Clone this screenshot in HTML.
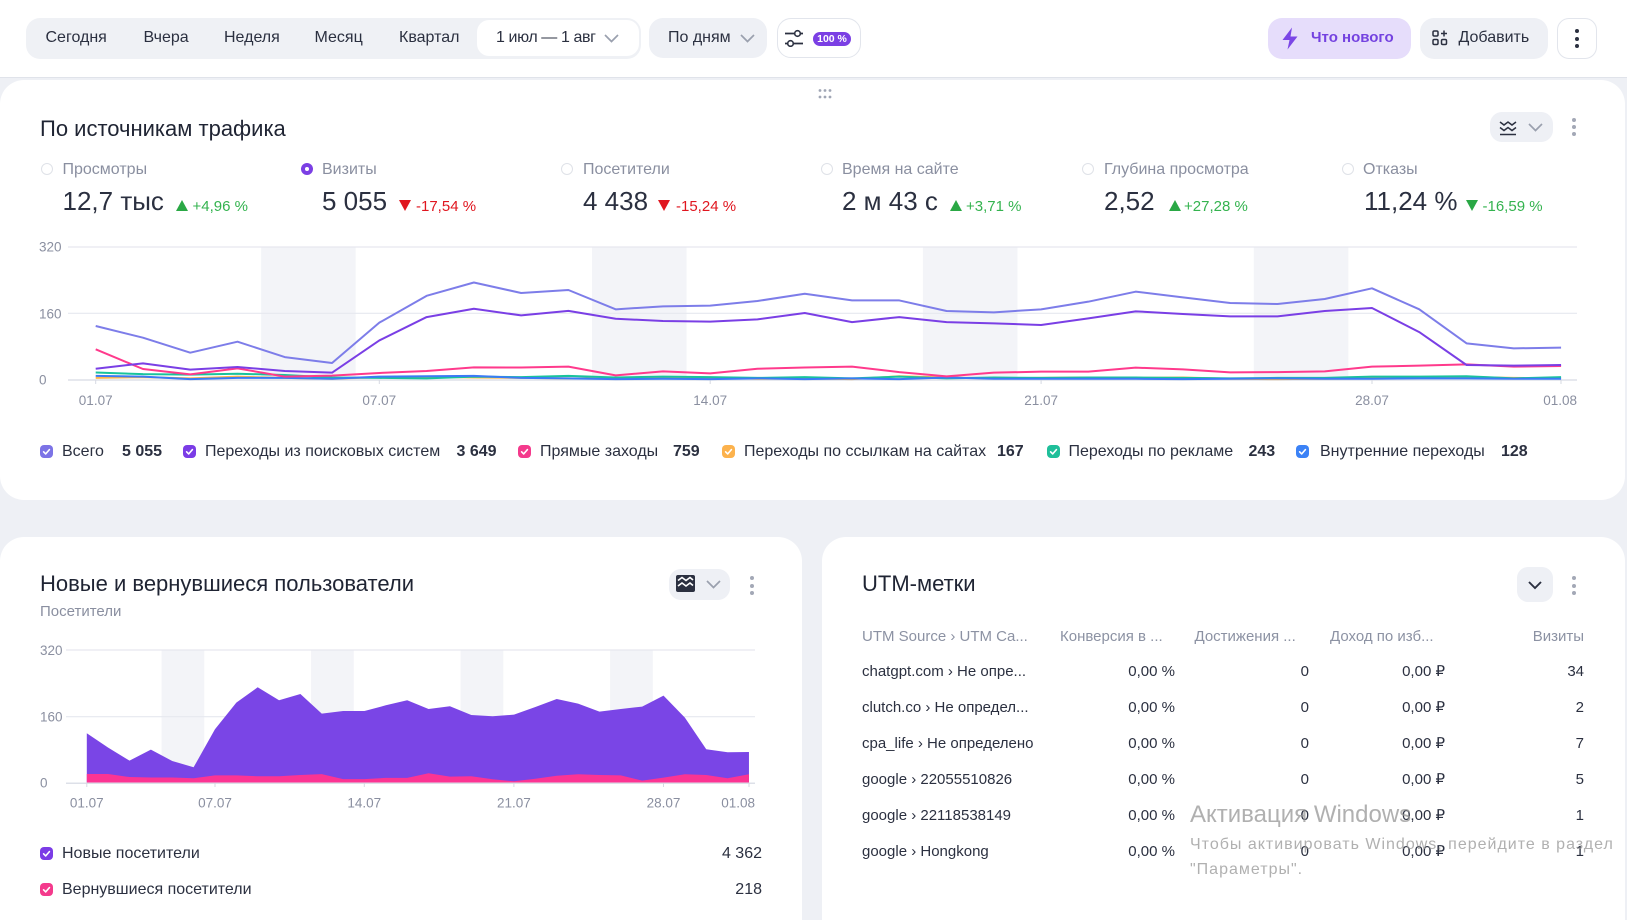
<!DOCTYPE html>
<html lang="ru"><head><meta charset="utf-8"><title>Метрика</title>
<style>
*{margin:0;padding:0;box-sizing:border-box}
html,body{width:1627px;height:920px;overflow:hidden}
body{background:#eef0f5;position:relative;font-family:"Liberation Sans","Noto Sans CJK SC",sans-serif;color:#2b3040}
.a{position:absolute;white-space:nowrap}
.s16{font-size:16px;line-height:16px}
.s15{font-size:15px;line-height:15px}
.s22{font-size:22px;line-height:22px}
.s26{font-size:26px;line-height:26px}
.g{color:#8a8fa0}
.card{position:absolute;background:#fff;border-radius:24px}
.kd{position:absolute;width:4px;height:4px;border-radius:50%;background:#a3a8b6}
.r{text-align:right}
.gr{color:#34b34f}
.rd{color:#e0161f}
.th{color:#8c92a3}
</style></head><body>

<!-- header -->
<div class="a" style="left:0;top:0;width:1627px;height:78px;background:#fff;border-bottom:1px solid #e0e3ea"></div>
<div class="a" style="left:26px;top:18px;width:615px;height:41px;background:#eff1f5;border-radius:14px"></div>
<div class="a s16" style="left:45.5px;top:30px">Сегодня</div>
<div class="a s16" style="left:143.5px;top:30px">Вчера</div>
<div class="a s16" style="left:224px;top:30px">Неделя</div>
<div class="a s16" style="left:314.5px;top:30px">Месяц</div>
<div class="a s16" style="left:399px;top:30px">Квартал</div>
<div class="a" style="left:477px;top:20px;width:162px;height:36px;background:#fff;border-radius:12px"></div>
<div class="a s16" style="left:496px;top:30px;letter-spacing:-0.4px">1 июл — 1 авг</div>
<svg class="a" style="left:604px;top:34px" width="15" height="9"><path d="M1 1L7.5 7.5L14 1" stroke="#9aa0ae" stroke-width="1.7" fill="none"/></svg>

<div class="a" style="left:649px;top:18px;width:118px;height:40px;background:#eef0f5;border-radius:14px"></div>
<div class="a s16" style="left:668px;top:30px">По дням</div>
<svg class="a" style="left:740px;top:34px" width="15" height="9"><path d="M1 1L7.5 7.5L14 1" stroke="#9aa0ae" stroke-width="1.7" fill="none"/></svg>

<div class="a" style="left:777px;top:18px;width:84px;height:40px;background:#fff;border:1.5px solid #e2e5ec;border-radius:14px"></div>
<svg class="a" style="left:784px;top:29px" width="20" height="18"><path d="M1 4.5H19M1 14.5H19" stroke="#2b3040" stroke-width="1.8"/><circle cx="13.5" cy="4.5" r="2.8" fill="#fff" stroke="#2b3040" stroke-width="1.6"/><circle cx="6.5" cy="14.5" r="2.8" fill="#fff" stroke="#2b3040" stroke-width="1.6"/></svg>
<div class="a" style="left:813px;top:31.5px;width:38px;height:14px;background:#7b3fe4;border-radius:7px;color:#fff;font-size:10.5px;line-height:14px;font-weight:bold;text-align:center">100 %</div>

<div class="a" style="left:1268px;top:18px;width:143px;height:41px;background:#e6ddfb;border-radius:14px"></div>
<svg class="a" style="left:1281px;top:27px" width="18" height="23"><path d="M11 0.5L1.5 13H8.5L6.5 22.5L16.5 9.5H9.5Z" fill="#7b46e6"/></svg>
<div class="a" style="left:1311px;top:30px;font-size:15px;line-height:15px;font-weight:bold;color:#7442e0">Что нового</div>
<div class="a" style="left:1420px;top:18px;width:128px;height:41px;background:#eef0f5;border-radius:14px"></div>
<svg class="a" style="left:1432px;top:30px" width="16" height="16"><rect x="1" y="1" width="5" height="5" rx="1.3" fill="none" stroke="#2b3040" stroke-width="1.5"/><rect x="1" y="9.5" width="5" height="5" rx="1.3" fill="none" stroke="#2b3040" stroke-width="1.5"/><rect x="9.5" y="9.5" width="5" height="5" rx="1.3" fill="none" stroke="#2b3040" stroke-width="1.5"/><path d="M12 0.5V6.5M9 3.5H15" stroke="#2b3040" stroke-width="1.5"/></svg>
<div class="a s16" style="left:1458.5px;top:30px">Добавить</div>
<div class="a" style="left:1557px;top:18px;width:40px;height:41px;background:#fff;border:1.5px solid #e2e5ec;border-radius:12px"></div>
<div class="kd" style="left:1575px;top:29px;background:#2b3040"></div>
<div class="kd" style="left:1575px;top:36.5px;background:#2b3040"></div>
<div class="kd" style="left:1575px;top:44px;background:#2b3040"></div>

<!-- top card -->
<div class="card" style="left:0;top:80px;width:1625px;height:420px"></div>
<svg class="a" style="left:818px;top:88px" width="14" height="12"><g fill="#a0a6b5"><circle cx="2" cy="2.5" r="1.4"/><circle cx="7" cy="2.5" r="1.4"/><circle cx="12" cy="2.5" r="1.4"/><circle cx="2" cy="9" r="1.4"/><circle cx="7" cy="9" r="1.4"/><circle cx="12" cy="9" r="1.4"/></g></svg>
<div class="a s22" style="left:40px;top:117.5px;color:#1f2433">По источникам трафика</div>
<div class="a" style="left:1490px;top:112px;width:63px;height:30px;background:#eef0f5;border-radius:12px"></div>
<svg class="a" style="left:1499px;top:119px" width="18" height="18"><path d="M1 3L5 6L9 3L13 6L17 3M1 8.5L5 11.5L9 8.5L13 11.5L17 8.5M1 15.5H17" stroke="#2b3040" stroke-width="1.5" fill="none"/></svg>
<svg class="a" style="left:1528px;top:123px" width="15" height="9"><path d="M1 1L7.5 7.5L14 1" stroke="#9aa0ae" stroke-width="1.7" fill="none"/></svg>
<div class="kd" style="left:1571.5px;top:118px"></div>
<div class="kd" style="left:1571.5px;top:125px"></div>
<div class="kd" style="left:1571.5px;top:132px"></div>

<!-- metrics -->
<div class="a" style="left:40.5px;top:163px;width:12px;height:12px;border-radius:50%;border:1.5px solid #dfe2e8"></div>
<div class="a" style="left:300.5px;top:163px;width:12px;height:12px;border-radius:50%;background:#7b3fe4"></div>
<div class="a" style="left:304.5px;top:167px;width:4px;height:4px;border-radius:50%;background:#fff"></div>
<div class="a" style="left:561px;top:163px;width:12px;height:12px;border-radius:50%;border:1.5px solid #dfe2e8"></div>
<div class="a" style="left:821px;top:163px;width:12px;height:12px;border-radius:50%;border:1.5px solid #dfe2e8"></div>
<div class="a" style="left:1082px;top:163px;width:12px;height:12px;border-radius:50%;border:1.5px solid #dfe2e8"></div>
<div class="a" style="left:1342px;top:163px;width:12px;height:12px;border-radius:50%;border:1.5px solid #dfe2e8"></div>

<div class="a s16 g" style="left:62.5px;top:161.5px">Просмотры</div>
<div class="a s16 g" style="left:322px;top:161.5px">Визиты</div>
<div class="a s16 g" style="left:583px;top:161.5px">Посетители</div>
<div class="a s16 g" style="left:842px;top:161.5px">Время на сайте</div>
<div class="a s16 g" style="left:1104px;top:161.5px">Глубина просмотра</div>
<div class="a s16 g" style="left:1363px;top:161.5px">Отказы</div>

<div class="a s26" style="left:62.5px;top:188px">12,7 тыс</div>
<div class="a s26" style="left:322px;top:188px">5 055</div>
<div class="a s26" style="left:583px;top:188px">4 438</div>
<div class="a s26" style="left:842px;top:188px">2 м 43 с</div>
<div class="a s26" style="left:1104px;top:188px">2,52</div>
<div class="a s26" style="left:1364px;top:188px">11,24 %</div>

<svg class="a" style="left:176px;top:200px" width="12" height="11"><path d="M6 0L12 11H0Z" fill="#2aa845"/></svg>
<div class="a s15 gr" style="left:192.5px;top:198.5px">+4,96 %</div>
<svg class="a" style="left:399px;top:200px" width="12" height="11"><path d="M0 0H12L6 11Z" fill="#e0161f"/></svg>
<div class="a s15 rd" style="left:416px;top:198.5px">-17,54 %</div>
<svg class="a" style="left:658px;top:200px" width="12" height="11"><path d="M0 0H12L6 11Z" fill="#e0161f"/></svg>
<div class="a s15 rd" style="left:676px;top:198.5px">-15,24 %</div>
<svg class="a" style="left:950px;top:200px" width="12" height="11"><path d="M6 0L12 11H0Z" fill="#2aa845"/></svg>
<div class="a s15 gr" style="left:966px;top:198.5px">+3,71 %</div>
<svg class="a" style="left:1168.5px;top:200px" width="12" height="11"><path d="M6 0L12 11H0Z" fill="#2aa845"/></svg>
<div class="a s15 gr" style="left:1184px;top:198.5px">+27,28 %</div>
<svg class="a" style="left:1465.5px;top:200px" width="12" height="11"><path d="M0 0H12L6 11Z" fill="#2aa845"/></svg>
<div class="a s15 gr" style="left:1482.5px;top:198.5px">-16,59 %</div>

<!-- main chart -->
<svg class="a" style="left:0;top:230px" width="1627" height="190" viewBox="0 230 1627 190">
 <g fill="#f3f4f8">
  <rect x="261.15" y="247" width="94.54" height="133"/>
  <rect x="592.04" y="247" width="94.54" height="133"/>
  <rect x="922.93" y="247" width="94.54" height="133"/>
  <rect x="1253.8" y="247" width="94.54" height="133"/>
 </g>
 <g stroke="#e6e8ef" stroke-width="1.2">
  <line x1="68" y1="247" x2="1577" y2="247"/>
  <line x1="68" y1="313.3" x2="1577" y2="313.3"/>
  <line x1="68" y1="380" x2="1577" y2="380" stroke="#dde0e8" stroke-width="1.5"/>
 </g>
 <g stroke="#d6d9e2" stroke-width="1">
  <line x1="95.7" y1="380" x2="95.7" y2="384"/><line x1="379.3" y1="380" x2="379.3" y2="384"/>
  <line x1="710.2" y1="380" x2="710.2" y2="384"/><line x1="1041.1" y1="380" x2="1041.1" y2="384"/>
  <line x1="1372" y1="380" x2="1372" y2="384"/><line x1="1561" y1="380" x2="1561" y2="384"/>
 </g>
 <g font-family="Liberation Sans, sans-serif" font-size="13.5" fill="#8a8fa0">
  <text x="39" y="251.7">320</text>
  <text x="39" y="318.3">160</text>
  <text x="39" y="384.5">0</text>
  <text x="95.7" y="405" text-anchor="middle">01.07</text>
  <text x="379.3" y="405" text-anchor="middle">07.07</text>
  <text x="710.2" y="405" text-anchor="middle">14.07</text>
  <text x="1041.1" y="405" text-anchor="middle">21.07</text>
  <text x="1372" y="405" text-anchor="middle">28.07</text>
  <text x="1577" y="405" text-anchor="end">01.08</text>
 </g>
 <g transform="translate(95.7 380) scale(47.27 -0.416667)" fill="none" stroke-width="2" stroke-linejoin="round">
  <polyline vector-effect="non-scaling-stroke" stroke="#ffb547" points="0,5 1,7 2,4 3,8 4,5 5,3 6,7 7,8 8,6 9,5 10,4 11,3 12,4 13,6 14,3 15,4 16,2 17,9 18,6 19,4 20,5 21,6 22,5 23,6 24,3 25,2 26,3 27,4 28,6 29,7 30,5 31,4"/>
  <polyline vector-effect="non-scaling-stroke" stroke="#19c39c" points="0,18 1,14 2,13 3,15 4,12 5,6 6,5 7,4 8,8 9,7 10,10 11,6 12,8 13,7 14,5 15,7 16,4 17,8 18,4 19,6 20,5 21,6 22,6 23,5 24,4 25,5 26,5 27,8 28,8 29,9 30,4 31,7"/>
  <polyline vector-effect="non-scaling-stroke" stroke="#3b7bf5" points="0,10 1,8 2,2 3,5 4,5 5,3 6,8 7,9 8,10 9,5 10,4 11,2 12,3 13,2 14,4 15,2 16,4 17,2 18,6 19,3 20,3 21,3 22,3 23,2 24,3 25,4 26,3 27,3 28,4 29,4 30,3 31,3"/>
  <polyline vector-effect="non-scaling-stroke" stroke="#ff3a8c" points="0,73.6 1,26.4 2,13.6 3,28 4,8 5,10.4 6,16.8 7,21.6 8,30.4 9,30 10,32 11,11 12,20.8 13,16 14,27 15,30 16,32 17,19 18,8.8 19,17.6 20,20 21,20 22,29.6 23,25.6 24,18.4 25,19 26,20.8 27,32 28,34.4 29,37.6 30,32 31,33.6"/>
  <polyline vector-effect="non-scaling-stroke" stroke="#7a3fe5" points="0,27 1,40 2,24.8 3,31.2 4,21.6 5,17.6 6,95 7,151 8,171 9,155 10,166 11,147 12,141.6 13,140 14,145.6 15,160.8 16,139 17,151 18,139 19,136 20,132 21,148 22,164.8 23,158.4 24,152.8 25,152.8 26,165.6 27,172.8 28,115 29,36 30,34.4 31,36"/>
  <polyline vector-effect="non-scaling-stroke" stroke="#7d7de9" points="0,129.6 1,101.6 2,65.6 3,92 4,55 5,40.8 6,137.6 7,202 8,234 9,208.8 10,216 11,169.6 12,176.8 13,178.4 14,189.6 15,207 16,191 17,191 18,165.6 19,162.4 20,169.6 21,188 22,212 23,198.4 24,184.8 25,182.4 26,194.4 27,220 28,169.6 29,88 30,76 31,77.6"/>
 </g>
</svg>

<!-- main legend -->
<svg class="a" style="left:39.5px;top:444.5px" width="13" height="13"><rect width="13" height="13" rx="4" fill="#7c73e6"/><path d="M3.6 6.8l2.1 2.1 3.7-4.3" stroke="#fff" stroke-width="1.6" fill="none" stroke-linecap="round" stroke-linejoin="round"/></svg>
<div class="a s16" style="left:62px;top:443.5px">Всего</div>
<div class="a s16" style="left:122px;top:443.5px;font-weight:bold">5 055</div>
<svg class="a" style="left:182.5px;top:444.5px" width="13" height="13"><rect width="13" height="13" rx="4" fill="#7b3ce6"/><path d="M3.6 6.8l2.1 2.1 3.7-4.3" stroke="#fff" stroke-width="1.6" fill="none" stroke-linecap="round" stroke-linejoin="round"/></svg>
<div class="a s16" style="left:205px;top:443.5px">Переходы из поисковых систем</div>
<div class="a s16" style="left:456.5px;top:443.5px;font-weight:bold">3 649</div>
<svg class="a" style="left:517.5px;top:444.5px" width="13" height="13"><rect width="13" height="13" rx="4" fill="#f43a8c"/><path d="M3.6 6.8l2.1 2.1 3.7-4.3" stroke="#fff" stroke-width="1.6" fill="none" stroke-linecap="round" stroke-linejoin="round"/></svg>
<div class="a s16" style="left:540px;top:443.5px">Прямые заходы</div>
<div class="a s16" style="left:673px;top:443.5px;font-weight:bold">759</div>
<svg class="a" style="left:721.5px;top:444.5px" width="13" height="13"><rect width="13" height="13" rx="4" fill="#fcb24d"/><path d="M3.6 6.8l2.1 2.1 3.7-4.3" stroke="#fff" stroke-width="1.6" fill="none" stroke-linecap="round" stroke-linejoin="round"/></svg>
<div class="a s16" style="left:744px;top:443.5px">Переходы по ссылкам на сайтах</div>
<div class="a s16" style="left:997px;top:443.5px;font-weight:bold">167</div>
<svg class="a" style="left:1047px;top:444.5px" width="13" height="13"><rect width="13" height="13" rx="4" fill="#1fbf9a"/><path d="M3.6 6.8l2.1 2.1 3.7-4.3" stroke="#fff" stroke-width="1.6" fill="none" stroke-linecap="round" stroke-linejoin="round"/></svg>
<div class="a s16" style="left:1068.5px;top:443.5px">Переходы по рекламе</div>
<div class="a s16" style="left:1248.5px;top:443.5px;font-weight:bold">243</div>
<svg class="a" style="left:1296px;top:444.5px" width="13" height="13"><rect width="13" height="13" rx="4" fill="#3b82f6"/><path d="M3.6 6.8l2.1 2.1 3.7-4.3" stroke="#fff" stroke-width="1.6" fill="none" stroke-linecap="round" stroke-linejoin="round"/></svg>
<div class="a s16" style="left:1320px;top:443.5px">Внутренние переходы</div>
<div class="a s16" style="left:1501px;top:443.5px;font-weight:bold">128</div>

<!-- bottom left card -->
<div class="card" style="left:0;top:537px;width:802px;height:420px"></div>
<div class="a s22" style="left:40px;top:573px;color:#1f2433">Новые и вернувшиеся пользователи</div>
<div class="a s15 g" style="left:40px;top:603.5px">Посетители</div>
<div class="a" style="left:669px;top:569px;width:61px;height:31px;background:#eef0f5;border-radius:12px"></div>
<svg class="a" style="left:676px;top:575px" width="19" height="17"><rect width="19" height="17" rx="2" fill="#2b3040"/><path d="M2 5.5L6 2.5L10 5.5L14 2.5L17 5M2 11L6 8L10 11L14 8L17 10.5" stroke="#fff" stroke-width="1.6" fill="none"/></svg>
<svg class="a" style="left:706px;top:580px" width="15" height="9"><path d="M1 1L7.5 7.5L14 1" stroke="#9aa0ae" stroke-width="1.7" fill="none"/></svg>
<div class="kd" style="left:749.5px;top:576px"></div>
<div class="kd" style="left:749.5px;top:583.5px"></div>
<div class="kd" style="left:749.5px;top:591px"></div>

<svg class="a" style="left:0;top:640px" width="802" height="175" viewBox="0 640 802 175">
 <g fill="#f3f4f8">
  <rect x="161.56" y="650" width="42.72" height="133.3"/>
  <rect x="311.08" y="650" width="42.72" height="133.3"/>
  <rect x="460.6" y="650" width="42.72" height="133.3"/>
  <rect x="610.12" y="650" width="42.72" height="133.3"/>
 </g>
 <g stroke="#e6e8ef" stroke-width="1.2">
  <line x1="66" y1="650" x2="755" y2="650"/>
  <line x1="66" y1="716.7" x2="755" y2="716.7"/>
 </g>
 <g transform="translate(86.8 783.3) scale(21.36 -0.416667)">
  <polygon fill="#7a45e6" points="0,0 0,120 1,85.6 2,54.4 3,80.8 4,53.6 5,38.4 6,129.6 7,193.6 8,230.4 9,199.2 10,214.4 11,167.2 12,173.6 13,173.6 14,187.2 15,199.2 16,178.4 17,184.8 18,164 19,160.8 20,164.8 21,183.2 22,202.4 23,191.2 24,172 25,178.4 26,184 27,210.4 28,157.6 29,81.6 30,74.4 31,75.2 31,0"/>
  <polygon fill="#fc3493" points="0,0 0,22.4 1,22.4 2,15 3,14 4,14 5,12 6,19 7,19 8,17 9,17 10,20 11,22 12,10 13,10 14,13 15,13 16,24 17,16 18,17 19,9.6 20,4.8 21,11 22,18 23,21.6 24,20 25,19 26,6.4 27,13.6 28,21.6 29,20 30,12 31,21.6 31,0"/>
 </g>
 <line x1="66" y1="783.3" x2="755" y2="783.3" stroke="#dde0e8" stroke-width="1.5"/>
 <g stroke="#d6d9e2" stroke-width="1">
  <line x1="86.8" y1="783" x2="86.8" y2="787"/><line x1="215" y1="783" x2="215" y2="787"/>
  <line x1="364.3" y1="783" x2="364.3" y2="787"/><line x1="513.9" y1="783" x2="513.9" y2="787"/>
  <line x1="663.5" y1="783" x2="663.5" y2="787"/><line x1="749" y1="783" x2="749" y2="787"/>
 </g>
 <g font-family="Liberation Sans, sans-serif" font-size="13.5" fill="#8a8fa0">
  <text x="40" y="655">320</text>
  <text x="40" y="721.7">160</text>
  <text x="40" y="787.5">0</text>
  <text x="86.8" y="807.3" text-anchor="middle">01.07</text>
  <text x="215" y="807.3" text-anchor="middle">07.07</text>
  <text x="364.3" y="807.3" text-anchor="middle">14.07</text>
  <text x="513.9" y="807.3" text-anchor="middle">21.07</text>
  <text x="663.5" y="807.3" text-anchor="middle">28.07</text>
  <text x="755" y="807.3" text-anchor="end">01.08</text>
 </g>
</svg>

<svg class="a" style="left:40px;top:847px" width="13" height="13"><rect width="13" height="13" rx="4" fill="#7b3ce6"/><path d="M3.6 6.8l2.1 2.1 3.7-4.3" stroke="#fff" stroke-width="1.6" fill="none" stroke-linecap="round" stroke-linejoin="round"/></svg>
<div class="a s16" style="left:62px;top:845.5px">Новые посетители</div>
<div class="a s16 r" style="left:662px;width:100px;top:845.5px">4 362</div>
<svg class="a" style="left:40px;top:883px" width="13" height="13"><rect width="13" height="13" rx="4" fill="#f43a8c"/><path d="M3.6 6.8l2.1 2.1 3.7-4.3" stroke="#fff" stroke-width="1.6" fill="none" stroke-linecap="round" stroke-linejoin="round"/></svg>
<div class="a s16" style="left:62px;top:881.5px">Вернувшиеся посетители</div>
<div class="a s16 r" style="left:662px;width:100px;top:881.5px">218</div>

<!-- bottom right card -->
<div class="card" style="left:822px;top:537px;width:803px;height:420px"></div>
<div class="a s22" style="left:862px;top:573px;color:#1f2433">UTM-метки</div>
<div class="a" style="left:1517px;top:567px;width:36px;height:35px;background:#eef0f5;border-radius:11px"></div>
<svg class="a" style="left:1528px;top:581px" width="14" height="9"><path d="M1 1L7 7L13 1" stroke="#2b3040" stroke-width="1.9" fill="none"/></svg>
<div class="kd" style="left:1571.5px;top:576px"></div>
<div class="kd" style="left:1571.5px;top:583.5px"></div>
<div class="kd" style="left:1571.5px;top:591px"></div>

<div class="a s15 th" style="left:862px;top:629px">UTM Source › UTM Ca...</div>
<div class="a s15 th" style="left:1060px;top:629px">Конверсия в ...</div>
<div class="a s15 th" style="left:1194.5px;top:629px">Достижения ...</div>
<div class="a s15 th" style="left:1330px;top:629px">Доход по изб...</div>
<div class="a s15 th r" style="left:1484px;width:100px;top:629px">Визиты</div>

<div class="a s15" style="left:862px;top:664px">chatgpt.com › Не опре...</div>
<div class="a s15" style="left:862px;top:700px">clutch.co › Не определ...</div>
<div class="a s15" style="left:862px;top:736px">cpa_life › Не определено</div>
<div class="a s15" style="left:862px;top:772px">google › 22055510826</div>
<div class="a s15" style="left:862px;top:808px">google › 22118538149</div>
<div class="a s15" style="left:862px;top:844px">google › Hongkong</div>

<div class="a s15 r" style="left:1075px;width:100px;top:664px;line-height:15px">0,00 %<br><span style="display:block;height:21px"></span>0,00 %<br><span style="display:block;height:21px"></span>0,00 %<br><span style="display:block;height:21px"></span>0,00 %<br><span style="display:block;height:21px"></span>0,00 %<br><span style="display:block;height:21px"></span>0,00 %</div>
<div class="a s15 r" style="left:1209px;width:100px;top:664px;line-height:15px">0<br><span style="display:block;height:21px"></span>0<br><span style="display:block;height:21px"></span>0<br><span style="display:block;height:21px"></span>0<br><span style="display:block;height:21px"></span>0<br><span style="display:block;height:21px"></span>0</div>
<div class="a s15 r" style="left:1345px;width:100px;top:664px;line-height:15px">0,00 ₽<br><span style="display:block;height:21px"></span>0,00 ₽<br><span style="display:block;height:21px"></span>0,00 ₽<br><span style="display:block;height:21px"></span>0,00 ₽<br><span style="display:block;height:21px"></span>0,00 ₽<br><span style="display:block;height:21px"></span>0,00 ₽</div>
<div class="a s15 r" style="left:1484px;width:100px;top:664px;line-height:15px">34<br><span style="display:block;height:21px"></span>2<br><span style="display:block;height:21px"></span>7<br><span style="display:block;height:21px"></span>5<br><span style="display:block;height:21px"></span>1<br><span style="display:block;height:21px"></span>1</div>

<!-- windows watermark -->
<div class="a" style="left:1190px;top:803px;font-size:24px;line-height:24px;color:rgba(150,150,150,0.75)">Активация Windows</div>
<div class="a" style="left:1190px;top:836.5px;font-size:16px;line-height:16px;letter-spacing:1px;color:rgba(150,150,150,0.75)">Чтобы активировать Windows, перейдите в раздел</div>
<div class="a" style="left:1190px;top:861.5px;font-size:16px;line-height:16px;letter-spacing:1px;color:rgba(150,150,150,0.75)">"Параметры".</div>

</body></html>
